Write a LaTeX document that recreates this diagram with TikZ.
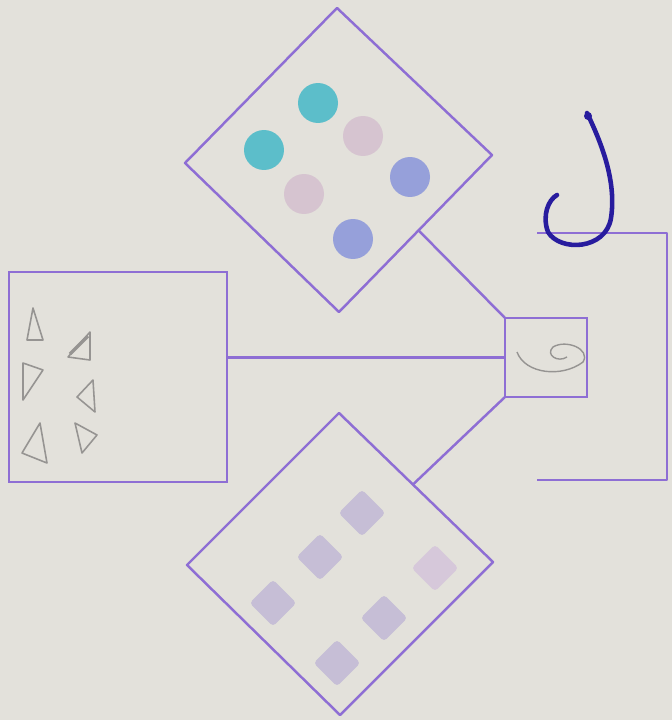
\documentclass[tikz,border=0pt]{standalone}
\usetikzlibrary{calc}
\definecolor{paper}{RGB}{227,225,219}
\definecolor{pencil}{RGB}{142,110,212}
\definecolor{ink}{RGB}{40,28,158}
\definecolor{dotcyan}{RGB}{92,190,202}
\definecolor{dotpink}{RGB}{214,196,208}
\definecolor{dotblue}{RGB}{150,160,218}
\definecolor{tilelilac}{RGB}{198,190,214}
\definecolor{tilepink}{RGB}{214,200,218}
\definecolor{lead}{RGB}{150,148,146}
\tikzset{
  box/.style={draw=pencil, rectangle, inner sep=0pt, outer sep=0pt},
  dot/.style={circle, inner sep=0pt, minimum size=0.8cm},
  tile/.style={rectangle, rounded corners=2pt, rotate=45, inner sep=0pt, minimum size=0.66cm, fill=tilelilac},
  tri/.style={draw=lead, line width=0.9pt, line join=round}
}
\begin{document}
\begin{tikzpicture}[x=0.02cm, y=-0.02cm, line width=1.4pt]

	\fill[paper] (0,0) rectangle (672,720);

	% top diamond with dots
	\coordinate (topn) at (337,8);
	\coordinate (topw) at (185,163);
	\coordinate (tops) at (339,312);
	\coordinate (tope) at (492,155);
	\draw[pencil, line join=round] (topn) -- (tope) -- (tops) -- (topw) -- cycle;
	\node[dot, fill=dotcyan] (dot1) at (318,103) {};
	\node[dot, fill=dotcyan] (dot2) at (264,150) {};
	\node[dot, fill=dotpink] (dot3) at (363,136) {};
	\node[dot, fill=dotblue] (dot4) at (410,177) {};
	\node[dot, fill=dotpink] (dot5) at (304,194) {};
	\node[dot, fill=dotblue] (dot6) at (353,239) {};

	% bottom diamond with tiles
	\coordinate (botn) at (339,413);
	\coordinate (botw) at (187,565);
	\coordinate (bots) at (340,715);
	\coordinate (bote) at (493,562);
	\draw[pencil, line join=round] (botn) -- (bote) -- (bots) -- (botw) -- cycle;
	\node[tile] (tile1) at (362,513) {};
	\node[tile] (tile2) at (320,557) {};
	\node[tile, fill=tilepink] (tile3) at (435,568) {};
	\node[tile] (tile4) at (273,603) {};
	\node[tile] (tile5) at (384,618) {};
	\node[tile] (tile6) at (337,663) {};

	% left box with triangles
	\node[box, minimum width=4.36cm, minimum height=4.2cm] (left) at (118,377) {};
	\draw[tri] (33,308) -- (27,340) -- (43,340) -- cycle;
	\draw[tri] (90,332) -- (68,357) -- (90,360) -- cycle;
	\draw[lead, line width=2pt] (70,354) -- (88,336);
	\draw[tri] (23,363) -- (43,370) -- (23,400) -- cycle;
	\draw[tri] (93,380) -- (77,397) -- (95,412) -- cycle;
	\draw[tri] (40,423) -- (22,453) -- (47,463) -- cycle;
	\draw[tri] (75,423) -- (97,435) -- (82,453) -- cycle;

	% small box in the middle
	\node[box, minimum width=1.64cm, minimum height=1.58cm] (hub) at (546,357.5) {};
	\draw[lead, line width=0.8pt] (517,352) .. controls (525,374) and (562,378) .. (583,362)
	        .. controls (591,349) and (566,339) .. (553,347) .. controls (545,355) and (558,363) .. (567,357);

	\coordinate (topend) at ($(tope)!0.48!(tops)$);
	\coordinate (botend) at ($(botn)!0.48!(bote)$);
	\draw[pencil] (hub.west) -- (hub.west -| left.east);
	\draw[pencil] (hub.north west) -- (topend);
	\draw[pencil] (hub.south west) -- (botend);

	% bracket on the right
	\coordinate (brt) at (537,233);
	\coordinate (brb) at (537,480);
	\draw[pencil, line join=round] (brt) -- (667,233) -- (667,480) -- (brb);

	% hook
	\draw[ink, line width=2.6pt, line cap=round] (587,113) .. controls (605,150) and (616,185) .. (611,218)
	        .. controls (606,250) and (560,252) .. (548,232) .. controls (542,216) and (548,200) .. (557,195);
	\fill[ink] (588,116) circle (4);

\end{tikzpicture}
\end{document}
